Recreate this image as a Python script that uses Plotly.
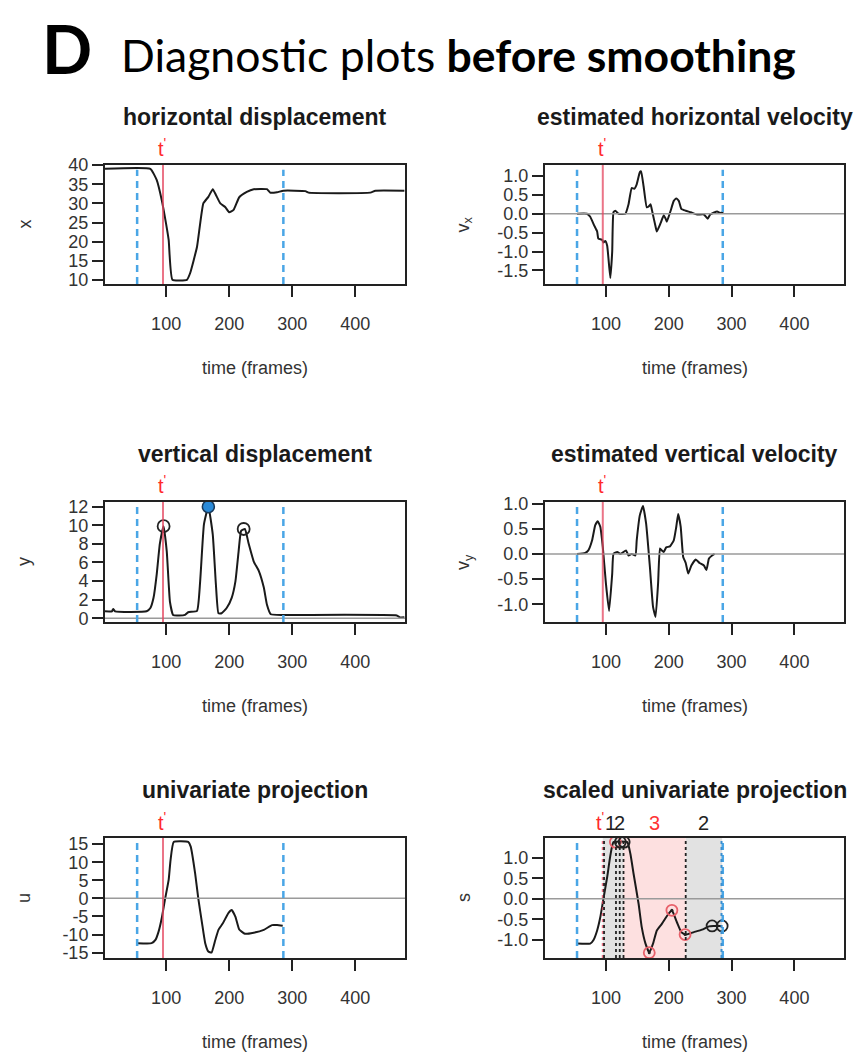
import plotly.graph_objects as go

W, H = 857, 1052

# ---------------- data ----------------
t_x = [3, 75, 85, 93, 98, 104, 110, 133, 138, 149, 159, 167, 174, 179, 186, 194, 200, 207, 216,
       228, 239, 260, 265, 276, 286, 321, 326, 424, 432, 478]
x_disp = [39.0, 39.0, 36.1, 30.9, 26.5, 20.5, 10.1, 10.1, 11.8, 18.7, 30.0, 31.7, 33.7, 32.2, 30.0,
          29.0, 27.7, 28.3, 31.6, 33.0, 33.7, 33.7, 32.8, 32.9, 33.3, 33.2, 32.8, 32.8, 33.3, 33.3]

t_vx = [54, 70, 75, 81, 86, 88, 94, 96, 99, 102, 107, 110, 112, 115, 120, 131, 136, 141, 145, 149,
        154, 156, 160, 165, 168, 171, 174, 179, 181, 187, 192, 195, 197, 203, 208, 212, 216, 220,
        227, 235, 245, 256, 262, 266, 277, 282, 287]
vx = [0, 0, -0.08, -0.3, -0.47, -0.66, -0.69, -0.76, -0.72, -0.85, -1.7, -1.0, 0.04, 0.08, 0, 0,
      0.25, 0.68, 0.66, 0.78, 1.1, 1.12, 0.72, 0.17, 0.19, 0.25, 0.04, -0.34, -0.47, -0.25, -0.04,
      -0.13, -0.21, 0.08, 0.34, 0.4, 0.34, 0.13, 0.08, 0.04, -0.02, -0.02, -0.13, -0.02, 0.06, 0.02, 0.04]

t_y = [3, 14, 16, 19, 69, 75, 80, 85, 90, 96, 101, 106, 111, 117, 130, 135, 149, 154, 160, 167, 174,
       179, 183, 188, 196, 204, 210, 215, 219, 225, 231, 239, 247, 255, 260, 266, 286, 466, 471, 478]
y_disp = [0.75, 0.75, 1.0, 0.75, 0.75, 1.1, 2.2, 4.7, 8.0, 9.9, 7.2, 1.8, 0.36, 0.3, 0.36, 0.65, 0.8,
          4.0, 10.1, 12.0, 9.0, 3.6, 0.54, 0.54, 1.1, 2.2, 4.0, 7.2, 9.4, 9.6, 8.0, 6.1, 5.1, 3.3, 1.45,
          0.43, 0.36, 0.3, 0.1, 0.1]
y_peak_t = [96, 223]
y_peak_v = [9.9, 9.6]
y_max_t = [167]
y_max_v = [12.0]

t_vy = [54, 67, 72, 78, 83, 87, 91, 95, 100, 105, 110, 112, 118, 123, 132, 136, 141, 147, 149, 154,
        159, 164, 170, 175, 179, 183, 186, 189, 192, 196, 202, 208, 212, 215, 219, 223, 227, 231, 236,
        243, 249, 256, 260, 264, 269, 273]
vy = [0, 0.02, 0.07, 0.27, 0.57, 0.65, 0.54, 0.14, -0.59, -1.13, -0.39, 0, 0.04, 0, 0.07, -0.03, 0,
      -0.03, 0.27, 0.77, 0.95, 0.6, -0.26, -1.05, -1.25, -0.59, 0.11, 0.07, 0.04, 0.13, 0.15, 0.27,
      0.54, 0.79, 0.54, -0.06, -0.18, -0.39, -0.23, -0.11, -0.18, -0.23, -0.32, -0.09, -0.03, 0]

t_u = [54.5, 77, 83, 88, 93, 98, 104, 107, 112, 135, 139, 146, 151, 157, 162, 167, 172, 178, 183,
       190, 199, 204, 210, 216, 225, 239, 255, 268, 276, 285]
u = [-12.4, -12.4, -11.5, -9.2, -5.5, -0.5, 5.1, 10.6, 15.6, 15.6, 14.3, 6.9, 0, -6.9, -12.4, -14.7,
     -15.0, -11.5, -8.7, -6.9, -4.0, -3.2, -5.1, -8.6, -9.8, -9.5, -8.7, -7.4, -7.4, -7.6]

t_s = [54, 75, 80, 86, 91, 96, 102, 107, 112, 134, 139, 144, 152, 157, 163, 169, 175, 181, 189, 198,
       205, 213, 220, 227, 240, 253, 264, 271, 285]
s = [-1.09, -1.09, -1.01, -0.77, -0.45, 0, 0.53, 1.05, 1.38, 1.38, 1.09, 0.61, -0.12, -0.69, -1.09,
     -1.31, -1.09, -0.77, -0.61, -0.4, -0.28, -0.57, -0.81, -0.87, -0.81, -0.75, -0.67, -0.66, -0.66]
s_red_t = [115, 169, 205, 226]
s_red_v = [1.38, -1.31, -0.28, -0.87]
s_blk_t = [123, 129, 269, 285]
s_blk_v = [1.38, 1.38, -0.66, -0.66]

t_prime = 95
bounds = [54, 286]
seg_gray = [[95, 128], [227, 285]]
seg_pink = [[128, 227]]
seg_dotted = [97, 116, 122, 128, 227]
seg_labels = ["1", "2", "3", "2"]
seg_label_t = [108, 121, 177, 255]
seg_label_col = ["#222222", "#222222", "#ff3333", "#222222"]

x_ticks = [100, 200, 300, 400]

panels = [
    # (title, ylab, box px (l, r, t, b), yrange, yticks, yticktext, zero line)
    ("horizontal displacement", "x", (105, 405, 165, 284), [9.0, 40.0],
     [10, 15, 20, 25, 30, 35, 40], ["10", "15", "20", "25", "30", "35", "40"], False),
    ("estimated horizontal velocity", "v<sub>x</sub>", (545, 844, 165, 284), [-1.86, 1.29],
     [-1.5, -1.0, -0.5, 0.0, 0.5, 1.0], ["-1.5", "-1.0", "-0.5", "0.0", "0.5", "1.0"], True),
    ("vertical displacement", "y", (105, 405, 502, 622), [-0.4, 12.5],
     [0, 2, 4, 6, 8, 10, 12], ["0", "2", "4", "6", "8", "10", "12"], True),
    ("estimated vertical velocity", "v<sub>y</sub>", (545, 844, 502, 622), [-1.35, 1.03],
     [-1.0, -0.5, 0.0, 0.5, 1.0], ["-1.0", "-0.5", "0.0", "0.5", "1.0"], True),
    ("univariate projection", "u", (105, 405, 838, 958), [-16.5, 16.7],
     [-15, -10, -5, 0, 5, 10, 15], ["-15", "-10", "-5", "0", "5", "10", "15"], True),
    ("scaled univariate projection", "s", (545, 844, 838, 958), [-1.44, 1.48],
     [-1.0, -0.5, 0.0, 0.5, 1.0], ["-1.0", "-0.5", "0.0", "0.5", "1.0"], True),
]

series = [(t_x, x_disp), (t_vx, vx), (t_y, y_disp), (t_vy, vy), (t_u, u), (t_s, s)]

FONT = "Liberation Sans, Arial, sans-serif"
LINE = "#1a1a1a"
BLUE = "#4aa6e6"
REDLINE = "rgba(228,70,95,0.75)"

fig = go.Figure()
layout = dict(width=W, height=H, margin=dict(l=0, r=0, t=0, b=0, pad=0, autoexpand=False),
              paper_bgcolor="white", plot_bgcolor="white", showlegend=False)
shapes = []
annotations = []


def px(p):
    return p / W


def py(p):
    return 1 - p / H


for i, (title, ylab, box, yr, yt, ytt, zero) in enumerate(panels):
    k = "" if i == 0 else str(i + 1)
    xa, ya = "x" + k, "y" + k
    l, r, t, b = box
    layout["xaxis" + k] = dict(domain=[px(l), px(r)], range=[3, 479], anchor=ya,
                               tickvals=x_ticks, ticktext=[str(v) for v in x_ticks],
                               ticks="outside", ticklen=11, tickwidth=1.6, tickcolor="#222",
                               showline=True, linecolor="#222", linewidth=2, mirror=True,
                               showgrid=False, zeroline=False, ticklabelstandoff=11,
                               automargin=False,
                               tickfont=dict(family=FONT, size=18, color="#333"))
    layout["yaxis" + k] = dict(domain=[py(b), py(t)], range=yr, anchor=xa,
                               tickvals=yt, ticktext=ytt,
                               ticks="outside", ticklen=11, tickwidth=1.6, tickcolor="#222",
                               showline=True, linecolor="#222", linewidth=2, mirror=True,
                               showgrid=False, zeroline=False, automargin=False,
                               tickfont=dict(family=FONT, size=18, color="#333"))
    # shaded segments (last panel)
    if i == 5:
        for a0, a1 in seg_gray:
            shapes.append(dict(type="rect", xref=xa, yref=ya + " domain", x0=a0, x1=a1, y0=0, y1=1,
                               fillcolor="#e2e2e2", line=dict(width=0), layer="below"))
        for a0, a1 in seg_pink:
            shapes.append(dict(type="rect", xref=xa, yref=ya + " domain", x0=a0, x1=a1, y0=0, y1=1,
                               fillcolor="#fde0e0", line=dict(width=0), layer="below"))
    if zero:
        shapes.append(dict(type="line", xref=xa + " domain", yref=ya, x0=0, x1=1, y0=0, y1=0,
                           line=dict(color="#9a9a9a", width=1.5)))
    # blue dashed bounds
    for bd in bounds:
        shapes.append(dict(type="line", xref=xa, yref=ya + " domain", x0=bd, x1=bd, y0=0, y1=0.96,
                           line=dict(color=BLUE, width=2.5, dash="7px,5px")))
    # t' line
    if i == 5:
        shapes.append(dict(type="line", xref=xa, yref=ya + " domain", x0=t_prime, x1=t_prime, y0=0, y1=1,
                           line=dict(color=REDLINE, width=2, dash="dot")))
        for d in seg_dotted:
            shapes.append(dict(type="line", xref=xa, yref=ya + " domain", x0=d, x1=d, y0=0, y1=1,
                               line=dict(color="#222", width=1.8, dash="dot")))
        shapes.append(dict(type="line", xref=xa, yref=ya + " domain", x0=284, x1=284, y0=0, y1=1,
                           line=dict(color="#3a8fd0", width=2, dash="dot")))
    else:
        shapes.append(dict(type="line", xref=xa, yref=ya + " domain", x0=t_prime, x1=t_prime, y0=0, y1=1,
                           line=dict(color=REDLINE, width=2)))

    tx, vals = series[i]
    fig.add_trace(go.Scatter(x=tx, y=vals, mode="lines", xaxis=xa, yaxis=ya,
                             line=dict(color=LINE, width=2, shape="spline", smoothing=0.4),
                             hoverinfo="skip"))

    # titles
    annotations.append(dict(text="<b>" + title + "</b>", xref="paper", yref="paper",
                            x=px((l + r) / 2), y=py(t - 48), showarrow=False,
                            xanchor="center", yanchor="middle",
                            font=dict(family=FONT, size=23, color="#1a1a1a")))
    annotations.append(dict(text="time (frames)", xref="paper", yref="paper",
                            x=px((l + r) / 2), y=py(b + 84), showarrow=False,
                            xanchor="center", yanchor="middle",
                            font=dict(family=FONT, size=18, color="#333")))
    annotations.append(dict(text=ylab, xref="paper", yref="paper", textangle=-90,
                            x=px(l - 81), y=py((t + b) / 2), showarrow=False,
                            xanchor="center", yanchor="middle",
                            font=dict(family=FONT, size=18, color="#333")))
    annotations.append(dict(text="t<sup>'</sup>", xref=xa, yref="paper",
                            x=t_prime - (5 if i == 5 else 2), y=py(t - 17), showarrow=False,
                            xanchor="center", yanchor="middle",
                            font=dict(family=FONT, size=20, color="#ff2a2a")))

# markers on vertical displacement
fig.add_trace(go.Scatter(x=y_peak_t, y=y_peak_v, mode="markers", xaxis="x3", yaxis="y3",
                         marker=dict(symbol="circle-open", size=12, color="#222",
                                     line=dict(width=1.8, color="#222")), hoverinfo="skip"))
fig.add_trace(go.Scatter(x=y_max_t, y=y_max_v, mode="markers", xaxis="x3", yaxis="y3",
                         marker=dict(symbol="circle", size=12, color="#2a8ad8",
                                     line=dict(width=1.5, color="#1a3a5a")), hoverinfo="skip"))
# markers on scaled projection
fig.add_trace(go.Scatter(x=s_red_t, y=s_red_v, mode="markers", xaxis="x6", yaxis="y6",
                         marker=dict(symbol="circle-open", size=11, color="#e8606a",
                                     line=dict(width=1.8, color="#e8606a")), hoverinfo="skip"))
fig.add_trace(go.Scatter(x=s_red_t, y=s_red_v, mode="markers", xaxis="x6", yaxis="y6",
                         marker=dict(symbol="circle", size=3, color="#222"), hoverinfo="skip"))
fig.add_trace(go.Scatter(x=s_blk_t, y=s_blk_v, mode="markers", xaxis="x6", yaxis="y6",
                         marker=dict(symbol="circle-open", size=11, color="#222",
                                     line=dict(width=1.8, color="#222")), hoverinfo="skip"))

# segment labels above scaled panel
for lab, lt, lc in zip(seg_labels, seg_label_t, seg_label_col):
    annotations.append(dict(text=lab, xref="x6", yref="paper", x=lt, y=py(823), showarrow=False,
                            xanchor="center", yanchor="middle",
                            font=dict(family=FONT, size=20, color=lc)))

# main heading
annotations.append(dict(text="<b>D</b>", xref="paper", yref="paper", x=px(40), y=py(49),
                        showarrow=False, xanchor="left", yanchor="middle",
                        font=dict(family="Lato, sans-serif", size=66, color="black")))
annotations.append(dict(text="Diagnostic plots <b>before smoothing</b>", xref="paper", yref="paper",
                        x=px(119), y=py(55), showarrow=False, xanchor="left", yanchor="middle",
                        font=dict(family="Lato, sans-serif", size=44.5, color="black")))

layout["shapes"] = shapes
layout["annotations"] = annotations
fig.update_layout(**layout)
fig.write_html("out.html", config={"displayModeBar": False},
               post_script="document.body.style.margin='0px';")
